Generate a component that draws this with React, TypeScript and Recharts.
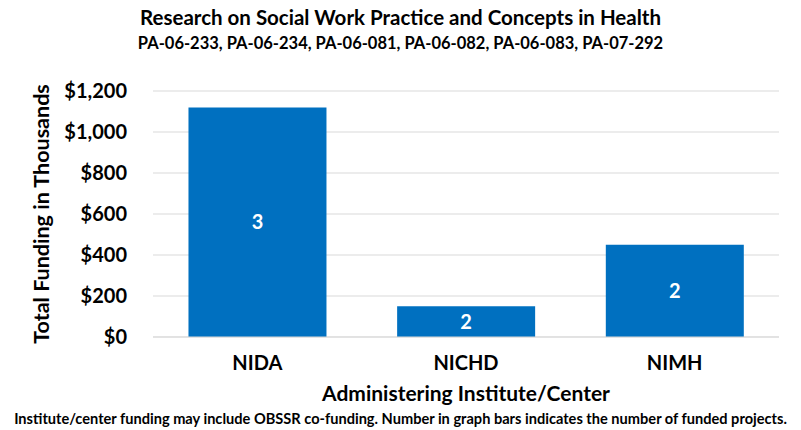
import React from 'react';
import { BarChart, Bar, XAxis, YAxis, CartesianGrid, LabelList, Label } from 'recharts';

const institutes = ['NIDA', 'NICHD', 'NIMH'];
const funding = [1120, 150, 450];
const projects = [3, 2, 2];
const yTicks = [0, 200, 400, 600, 800, 1000, 1200];

const data = institutes.map((name, i) => ({ name, funding: funding[i], projects: projects[i] }));

const font = 'Lato, "Open Sans", sans-serif';
const formatDollar = (v: number) => '$' + v.toLocaleString('en-US');

export default function App() {
  return (
    <div style={{ position: 'absolute', left: 0, top: 0, width: 801, height: 430, background: '#fff', fontFamily: font }}>
      <div style={{ position: 'absolute', top: 5, width: 801, textAlign: 'center', fontWeight: 700, fontSize: 20.5, color: '#000' }}>
        Research on Social Work Practice and Concepts in Health
      </div>
      <div style={{ position: 'absolute', top: 33, width: 801, textAlign: 'center', fontWeight: 700, fontSize: 16.5, color: '#000' }}>
        PA-06-233, PA-06-234, PA-06-081, PA-06-082, PA-06-083, PA-07-292
      </div>
      <BarChart
        width={801}
        height={430}
        data={data}
        margin={{ top: 91, right: 22, left: 0, bottom: 0 }}
        barCategoryGap="17%"
      >
        <CartesianGrid vertical={false} stroke="#d9d9d9" />
        <XAxis
          dataKey="name"
          height={93}
          axisLine={{ stroke: '#d9d9d9' }}
          tickLine={false}
          tickSize={0}
          tickMargin={19}
          tick={{ fill: '#000', fontSize: 20, fontWeight: 700, fontFamily: font }}
        >
          <Label
            value="Administering Institute/Center"
            position="insideTop"
            offset={49}
            style={{ fill: '#000', fontSize: 21, fontWeight: 700, fontFamily: font }}
          />
        </XAxis>
        <YAxis
          width={153}
          domain={[0, 1200]}
          ticks={yTicks}
          tickFormatter={formatDollar}
          axisLine={false}
          tickLine={false}
          tickSize={0}
          tickMargin={26}
          tick={{ fill: '#000', fontSize: 20, fontWeight: 700, fontFamily: font }}
        >
          <Label
            value="Total Funding in Thousands"
            angle={-90}
            position="insideLeft"
            offset={41}
            style={{ textAnchor: 'middle', fill: '#000', fontSize: 21.5, fontWeight: 700, fontFamily: font }}
          />
        </YAxis>
        <Bar dataKey="funding" fill="#0070c0" isAnimationActive={false}>
          <LabelList
            dataKey="projects"
            position="center"
            style={{ fill: '#fff', fontSize: 20, fontWeight: 700, fontFamily: font }}
          />
        </Bar>
      </BarChart>
      <div style={{ position: 'absolute', top: 410, width: 801, textAlign: 'center', fontWeight: 700, fontSize: 14.6, color: '#000', whiteSpace: 'nowrap' }}>
        Institute/center funding may include OBSSR co-funding. Number in graph bars indicates the number of funded projects.
      </div>
    </div>
  );
}
